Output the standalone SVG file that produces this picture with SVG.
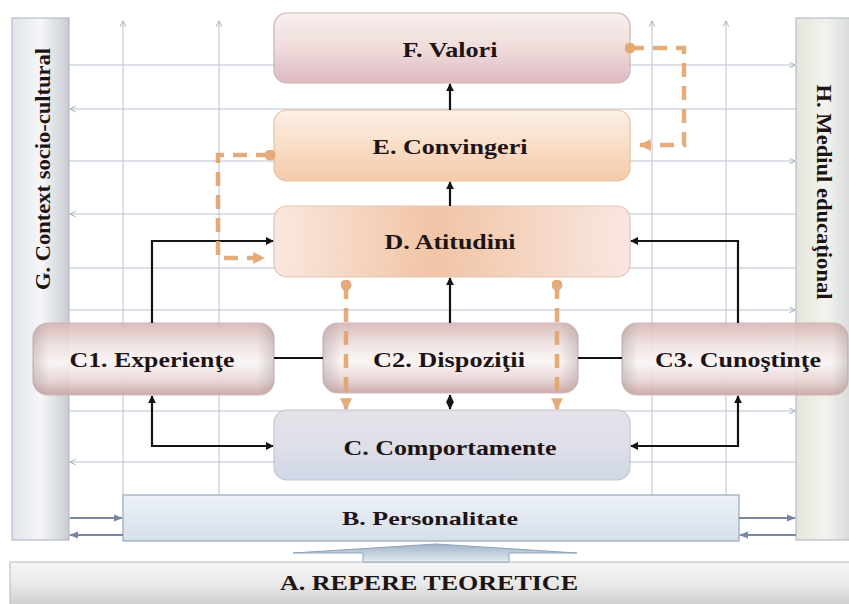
<svg xmlns="http://www.w3.org/2000/svg" width="849" height="604" viewBox="0 0 849 604">
<style>
.grid{stroke:#b9c2d2;stroke-width:1;fill:none}
.blk{stroke:#141414;stroke-width:2.2;fill:none}
.org{stroke:#e2a46c;stroke-width:4.5;fill:none;stroke-dasharray:14 9;opacity:.9}
.blu{stroke:#7886a6;stroke-width:2;fill:none}
.lbl{font-family:"Liberation Serif","Times New Roman",serif;font-weight:bold;font-size:21px;fill:#1e1414;text-anchor:middle}
.box{stroke-width:1.2;opacity:.93}
</style>
<defs>
<linearGradient id="gF" x1="0" y1="0" x2="0" y2="1"><stop offset="0" stop-color="#f8eeeb"/><stop offset=".5" stop-color="#efdad9"/><stop offset="1" stop-color="#dbb6bc"/></linearGradient>
<linearGradient id="gE" x1="0" y1="0" x2="0" y2="1"><stop offset="0" stop-color="#fcefe4"/><stop offset=".5" stop-color="#f9dcc4"/><stop offset="1" stop-color="#f4c7a2"/></linearGradient>
<linearGradient id="gD" x1="0" y1="0" x2="1" y2="0"><stop offset="0" stop-color="#fae6dc"/><stop offset=".45" stop-color="#f1c09f"/><stop offset="1" stop-color="#f9e6df"/></linearGradient>
<linearGradient id="gC" x1="0" y1="0" x2="0" y2="1"><stop offset="0" stop-color="#e5dfe8"/><stop offset=".5" stop-color="#dcdde8"/><stop offset="1" stop-color="#cdd6e6"/></linearGradient>
<linearGradient id="gCyl" x1="0" y1="0" x2="0" y2="1"><stop offset="0" stop-color="#d6b8b6"/><stop offset=".3" stop-color="#efe1e0"/><stop offset=".55" stop-color="#fbf6f6"/><stop offset=".8" stop-color="#e8d6d5"/><stop offset="1" stop-color="#c9a6a6"/></linearGradient>
<linearGradient id="gCylH" x1="0" y1="0" x2="1" y2="0"><stop offset="0" stop-color="#9a8c8c" stop-opacity=".45"/><stop offset=".07" stop-color="#9a8c8c" stop-opacity="0"/><stop offset=".93" stop-color="#9a8c8c" stop-opacity="0"/><stop offset="1" stop-color="#9a8c8c" stop-opacity=".45"/></linearGradient>
<linearGradient id="gB" x1="0" y1="0" x2="0" y2="1"><stop offset="0" stop-color="#ecf1f7"/><stop offset="1" stop-color="#d5dfea"/></linearGradient>
<linearGradient id="gA" x1="0" y1="0" x2="0" y2="1"><stop offset="0" stop-color="#f6f6f6"/><stop offset=".5" stop-color="#e8e8e8"/><stop offset="1" stop-color="#cbcbcb"/></linearGradient>
<linearGradient id="gG" x1="0" y1="0" x2="1" y2="0"><stop offset="0" stop-color="#dfe5ed"/><stop offset=".5" stop-color="#f5f6f8"/><stop offset="1" stop-color="#c8ccd1"/></linearGradient>
<linearGradient id="gH" x1="0" y1="0" x2="1" y2="0"><stop offset="0" stop-color="#e3e6da"/><stop offset=".5" stop-color="#f2f3ee"/><stop offset="1" stop-color="#d2d5d6"/></linearGradient>
<linearGradient id="gArr" x1="0" y1="0" x2="0" y2="1"><stop offset="0" stop-color="#9fb3c8"/><stop offset="1" stop-color="#e4ebf2"/></linearGradient>
<marker id="aBlk" viewBox="0 0 10 10" refX="9" refY="5" markerWidth="8" markerHeight="8" markerUnits="userSpaceOnUse" orient="auto-start-reverse"><path d="M0,0 L10,5 L0,10 z" fill="#141414"/></marker>
<marker id="aOrg" viewBox="0 0 10 10" refX="9" refY="5" markerWidth="12" markerHeight="12" markerUnits="userSpaceOnUse" orient="auto-start-reverse"><path d="M0,0 L10,5 L0,10 z" fill="#e2a46c"/></marker>
<marker id="dOrg" viewBox="0 0 10 10" refX="5" refY="5" markerWidth="11" markerHeight="11" markerUnits="userSpaceOnUse"><circle cx="5" cy="5" r="5" fill="#e2a46c"/></marker>
<marker id="aGrid" viewBox="0 0 10 10" refX="9" refY="5" markerWidth="7" markerHeight="7" markerUnits="userSpaceOnUse" orient="auto-start-reverse"><path d="M1,1 L9,5 L1,9" fill="none" stroke="#9aa6ba" stroke-width="1.3"/></marker>
<marker id="aBlu" viewBox="0 0 10 10" refX="9" refY="5" markerWidth="9" markerHeight="9" markerUnits="userSpaceOnUse" orient="auto-start-reverse"><path d="M0,1 L10,5 L0,9 z" fill="#7886a6"/></marker>
</defs>
<rect width="849" height="604" fill="#ffffff"/>

<g id="G">
<rect x="12" y="18" width="57" height="522" fill="url(#gG)" stroke="#a9b1bb" stroke-width="1"/>
<text class="lbl" transform="translate(50,169) rotate(-90)" textLength="242" lengthAdjust="spacingAndGlyphs" style="font-size:22px">G. Context socio-cultural</text>
</g>
<g id="H">
<rect x="796" y="18" width="60" height="522" fill="url(#gH)" stroke="#a9b1bb" stroke-width="1"/>
<text class="lbl" transform="translate(817,192) rotate(90)" textLength="215" lengthAdjust="spacingAndGlyphs" style="font-size:22px">H. Mediul educaţional</text>
</g>

<g id="grid">
<path class="grid" d="M123,495 V21" marker-end="url(#aGrid)"/>
<path class="grid" d="M219,495 V21" marker-end="url(#aGrid)"/>
<path class="grid" d="M652,495 V21" marker-end="url(#aGrid)"/>
<path class="grid" d="M726,495 V21" marker-end="url(#aGrid)"/>
<path class="grid" d="M69,65 H795" marker-end="url(#aGrid)"/>
<path class="grid" d="M796,109 H70" marker-end="url(#aGrid)"/>
<path class="grid" d="M69,161 H795" marker-end="url(#aGrid)"/>
<path class="grid" d="M796,214 H70" marker-end="url(#aGrid)"/>
<path class="grid" d="M69,268 H796"/>
<path class="grid" d="M69,310 H795" marker-end="url(#aGrid)"/>
<path class="grid" d="M69,411 H795" marker-end="url(#aGrid)"/>
<path class="grid" d="M796,462 H70" marker-end="url(#aGrid)"/>
</g>

<g id="A">
<rect x="10" y="562" width="845" height="46" fill="url(#gA)" stroke="#b3bac2" stroke-width="1"/>
<text class="lbl" x="429" y="590" textLength="298" lengthAdjust="spacingAndGlyphs" style="font-size:20px">A. REPERE TEORETICE</text>
</g>

<g id="B">
<rect x="123" y="495" width="616" height="46" fill="url(#gB)" stroke="#9aa6b6" stroke-width="1.2"/>
<text class="lbl" x="430" y="525" textLength="176" lengthAdjust="spacingAndGlyphs" style="font-size:19px">B. Personalitate</text>
</g>

<g id="F">
<rect class="box" x="274" y="13" width="356" height="70" rx="13" fill="url(#gF)" stroke="#c9abaf"/>
<text class="lbl" x="450" y="57" textLength="95" lengthAdjust="spacingAndGlyphs">F. Valori</text>
</g>
<g id="E">
<rect class="box" x="274" y="110" width="356" height="71" rx="13" fill="url(#gE)" stroke="#e3bd9d"/>
<text class="lbl" x="450" y="154" textLength="155" lengthAdjust="spacingAndGlyphs">E. Convingeri</text>
</g>
<g id="D">
<rect class="box" x="274" y="206" width="356" height="71" rx="13" fill="url(#gD)" stroke="#e2c2b0"/>
<text class="lbl" x="450" y="249" textLength="131" lengthAdjust="spacingAndGlyphs">D. Atitudini</text>
</g>
<g id="C">
<rect class="box" x="274" y="410" width="356" height="70" rx="13" fill="url(#gC)" stroke="#c0c2cf"/>
<text class="lbl" x="450" y="455" textLength="213" lengthAdjust="spacingAndGlyphs">C. Comportamente</text>
</g>
<g id="C1">
<rect class="box" x="33" y="323" width="241" height="72" rx="15" fill="url(#gCyl)" stroke="#cfb3b3"/>
<rect x="33" y="323" width="241" height="72" rx="15" fill="url(#gCylH)" opacity=".8"/>
<text class="lbl" x="152" y="367" textLength="165" lengthAdjust="spacingAndGlyphs">C1. Experienţe</text>
</g>
<g id="C2">
<rect class="box" x="323" y="323" width="255" height="70" rx="15" fill="url(#gCyl)" stroke="#cfb3b3"/>
<rect x="323" y="323" width="255" height="70" rx="15" fill="url(#gCylH)" opacity=".8"/>
<text class="lbl" x="449" y="367" textLength="152" lengthAdjust="spacingAndGlyphs">C2. Dispoziţii</text>
</g>
<g id="C3">
<rect class="box" x="622" y="323" width="226" height="72" rx="15" fill="url(#gCyl)" stroke="#cfb3b3"/>
<rect x="622" y="323" width="226" height="72" rx="15" fill="url(#gCylH)" opacity=".8"/>
<text class="lbl" x="738" y="367" textLength="166" lengthAdjust="spacingAndGlyphs">C3. Cunoştinţe</text>
</g>

<g id="connectors">
<path class="blk" d="M450,110 V84" marker-end="url(#aBlk)"/>
<path class="blk" d="M450,206 V182" marker-end="url(#aBlk)"/>
<path class="blk" d="M450,323 V278" marker-end="url(#aBlk)"/>
<path class="blk" d="M450,395 V409" stroke-width="1.6" marker-start="url(#aBlk)" marker-end="url(#aBlk)"/>
<path class="blk" d="M152,323 V241 H273" marker-end="url(#aBlk)"/>
<path class="blk" d="M273,446 H152 V396" marker-start="url(#aBlk)" marker-end="url(#aBlk)"/>
<path class="blk" d="M738,323 V241 H631" marker-end="url(#aBlk)"/>
<path class="blk" d="M631,446 H738 V396" marker-start="url(#aBlk)" marker-end="url(#aBlk)"/>
<path class="blk" d="M274,358 H323"/>
<path class="blk" d="M578,358 H622"/>
<path class="org" d="M270,155 H218 V258 H264" marker-start="url(#dOrg)" marker-end="url(#aOrg)"/>
<path class="org" d="M630,48 H684 V145 H640" marker-start="url(#dOrg)" marker-end="url(#aOrg)"/>
<path class="org" d="M346,285 V409" marker-start="url(#dOrg)" marker-end="url(#aOrg)"/>
<path class="org" d="M557,285 V409" marker-start="url(#dOrg)" marker-end="url(#aOrg)"/>
<path class="blu" d="M70,518 H122" marker-end="url(#aBlu)"/>
<path class="blu" d="M123,535 H70" marker-end="url(#aBlu)"/>
<path class="blu" d="M739,518 H795" marker-end="url(#aBlu)"/>
<path class="blu" d="M796,535 H740" marker-end="url(#aBlu)"/>
<polygon points="293,553 436,544 577,553 509,553 509,562 363,562 363,553" fill="url(#gArr)" stroke="#8fa2b8" stroke-width="1"/>
</g>
</svg>
